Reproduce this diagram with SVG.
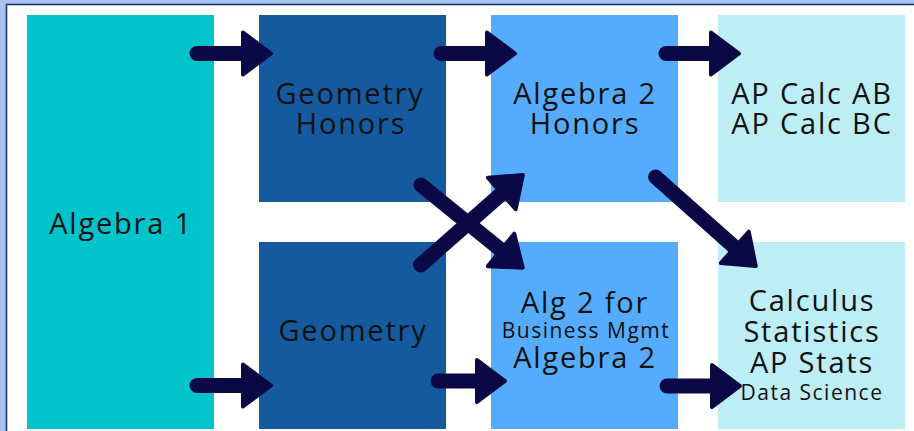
<svg xmlns="http://www.w3.org/2000/svg" width="914" height="431" viewBox="0 0 914 431">
<style>
.box{stroke:none}
.t{font-family:"Open Sans","Liberation Sans",sans-serif;fill:#111;text-anchor:middle}
.big{font-size:29px;letter-spacing:1.8px}
.small{font-size:21px;letter-spacing:1.5px}
.arr{stroke:#0a0845;stroke-width:15;stroke-linecap:round;fill:none}
</style>
<defs>
<marker id="head" markerUnits="userSpaceOnUse" markerWidth="40" markerHeight="52" viewBox="-3 -26 40 52" refX="0" refY="0" orient="auto">
<path d="M0,-21 L28,0 L0,21 Z" fill="#0a0845" stroke="#0a0845" stroke-width="4" stroke-linejoin="round"/>
</marker>
</defs>
<rect x="0" y="0" width="914" height="431" fill="#a8c2f2"/>
<rect x="6.5" y="4.5" width="920" height="440" fill="#ffffff" stroke="#1b3a6b" stroke-width="1.6"/>
<g id="algebra1">
<rect class="box" x="27" y="15" width="187" height="414" fill="#00c4cc"/>
<text class="t big" x="121" y="234">Algebra 1</text>
</g>
<g id="geometry-honors">
<rect class="box" x="259" y="15" width="187" height="187" fill="#155a9f"/>
<text class="t big" x="350" y="104">Geometry</text>
<text class="t big" x="351" y="134">Honors</text>
</g>
<g id="geometry">
<rect class="box" x="259" y="242" width="187" height="187" fill="#155a9f"/>
<text class="t big" x="353" y="341">Geometry</text>
</g>
<g id="algebra2-honors">
<rect class="box" x="491" y="15" width="187" height="187" fill="#55acfe"/>
<text class="t big" x="585" y="104">Algebra 2</text>
<text class="t big" x="585" y="134">Honors</text>
</g>
<g id="algebra2">
<rect class="box" x="491" y="242" width="187" height="187" fill="#55acfe"/>
<text class="t big" x="585" y="313">Alg 2 for</text>
<text class="t small" x="586" y="338">Business Mgmt</text>
<text class="t big" x="585" y="368">Algebra 2</text>
</g>
<g id="ap-calc">
<rect class="box" x="718" y="15" width="187" height="187" fill="#bdeef5"/>
<text class="t big" x="812" y="104">AP Calc AB</text>
<text class="t big" x="812" y="134">AP Calc BC</text>
</g>
<g id="calculus">
<rect class="box" x="718" y="242" width="187" height="187" fill="#bdeef5"/>
<text class="t big" x="812" y="311">Calculus</text>
<text class="t big" x="812" y="342">Statistics</text>
<text class="t big" x="812" y="373">AP Stats</text>
<text class="t small" x="812" y="400">Data Science</text>
</g>
<g id="connectors">
<path class="arr" d="M197,53.5 L243,53.5" marker-end="url(#head)"/>
<path class="arr" d="M441,53.5 L487,53.5" marker-end="url(#head)"/>
<path class="arr" d="M666,53.5 L711,53.5" marker-end="url(#head)"/>
<path class="arr" d="M197,385.5 L243,385.5" marker-end="url(#head)"/>
<path class="arr" d="M438,381 L477,381" marker-end="url(#head)"/>
<path class="arr" d="M667,386 L712,386" marker-end="url(#head)"/>
<path class="arr" d="M421,185 L501,250" marker-end="url(#head)"/>
<path class="arr" d="M420.6,265 L501.8,193.5" marker-end="url(#head)"/>
<path class="arr" d="M655.6,177 L734.8,247.4" marker-end="url(#head)"/>
</g>
</svg>
